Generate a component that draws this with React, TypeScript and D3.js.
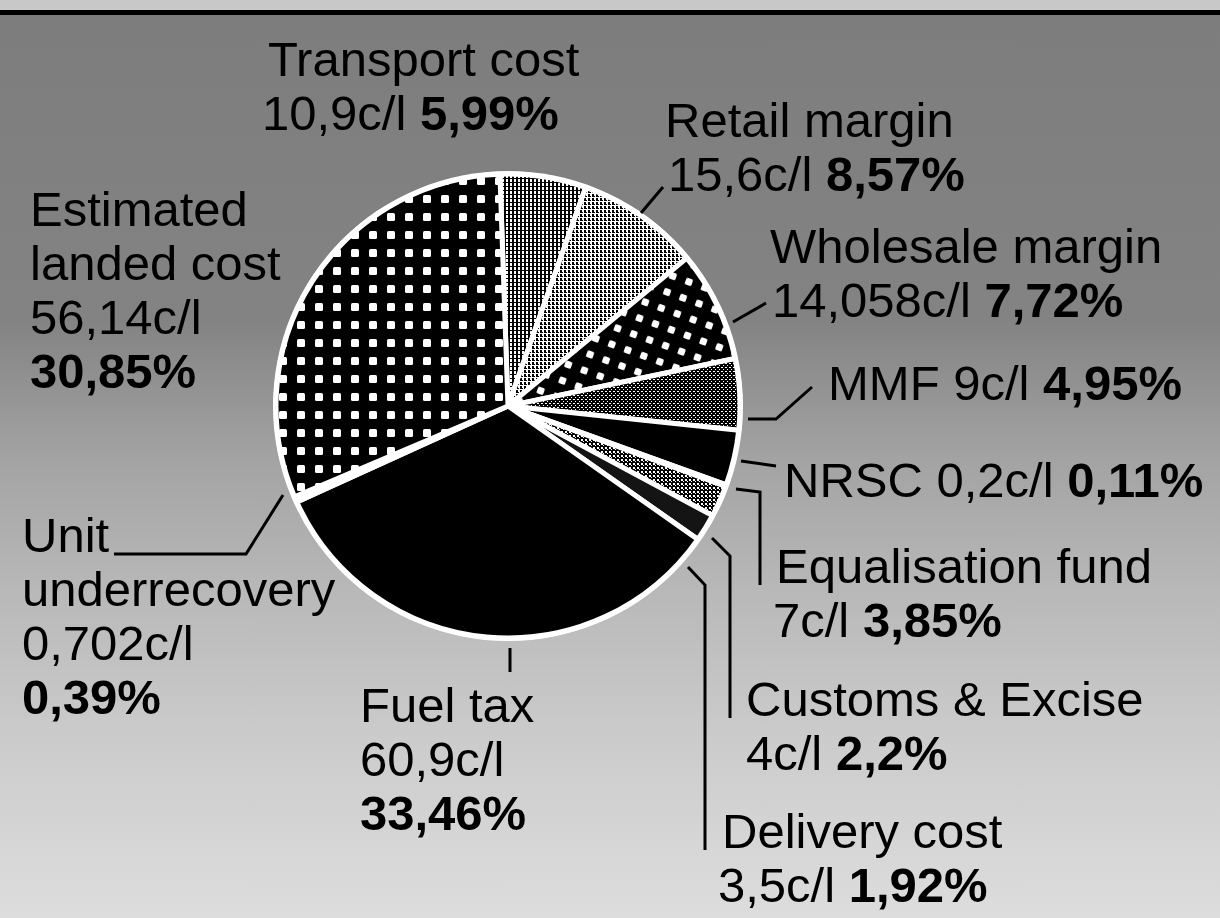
import React from "react";
import * as d3 from "d3";

// ---------- data ----------
const categories = [
  "Transport cost",
  "Retail margin",
  "Wholesale margin",
  "MMF",
  "Equalisation fund",
  "NRSC",
  "Customs & Excise",
  "Delivery cost",
  "Fuel tax",
  "Unit underrecovery",
  "Estimated landed cost",
];
const centsPerLitre = ["10,9", "15,6", "14,058", "9", "7", "0,2", "4", "3,5", "60,9", "0,702", "56,14"];
const shares = [5.99, 8.57, 7.72, 4.95, 3.85, 0.11, 2.2, 1.92, 33.46, 0.39, 30.85];
const shareLabels = ["5,99%", "8,57%", "7,72%", "4,95%", "3,85%", "0,11%", "2,2%", "1,92%", "33,46%", "0,39%", "30,85%"];

// ---------- styling / layout ----------
const W = 1220;
const H = 918;
const CX = 508;
const CY = 406;
const R = 232;
const START = (-2 * Math.PI) / 180;
const FONT = "'Liberation Sans', Arial, Helvetica, sans-serif";
const FS = 49;
const LH = 54;

const sliceFills = [
  "url(#halfMid)",
  "url(#halfLight)",
  "url(#gridB)",
  "url(#halfDark)",
  "#000",
  "#fff",
  "url(#halfMid2)",
  "#141414",
  "#000",
  "#fff",
  "url(#gridA)",
];

// mode: "inline" = name value pct ; "two" = name / value pct ; "stack" = name lines / value / pct
type Layout = { x: number; y: number; mode: "inline" | "two" | "stack"; nameBreak?: number; x2?: number };
const layouts: Layout[] = [
  { x: 268, y: 76, mode: "two", x2: 262 },
  { x: 665, y: 137, mode: "two", x2: 668 },
  { x: 770, y: 263, mode: "two", x2: 772 },
  { x: 828, y: 400, mode: "inline" },
  { x: 776, y: 583, mode: "two", x2: 773 },
  { x: 784, y: 497, mode: "inline" },
  { x: 746, y: 716, mode: "two", x2: 746 },
  { x: 722, y: 848, mode: "two", x2: 718 },
  { x: 360, y: 722, mode: "stack", nameBreak: 2 },
  { x: 22, y: 552, mode: "stack", nameBreak: 1 },
  { x: 30, y: 226, mode: "stack", nameBreak: 1 },
];

const leaders: [number, number][][] = [
  [[641, 213], [663, 187]],
  [[733, 322], [766, 303]],
  [[748, 419], [776, 419], [812, 387]],
  [[741, 461], [776, 466]],
  [[736, 489], [760, 492], [760, 585]],
  [[712, 538], [730, 556], [730, 718]],
  [[688, 567], [705, 585], [705, 850]],
  [[283, 495], [246, 554], [114, 554]],
  [[510, 648], [510, 672]],
];

type Span = { t: string; b?: boolean };

function labelLines(i: number): Span[][] {
  const L = layouts[i];
  const name = categories[i];
  const val = centsPerLitre[i] + "c/l";
  const pct = shareLabels[i];
  if (L.mode === "inline") return [[{ t: name + " " + val + " " }, { t: pct, b: true }]];
  if (L.mode === "two") return [[{ t: name }], [{ t: val + " " }, { t: pct, b: true }]];
  const words = name.split(" ");
  const k = L.nameBreak ?? words.length;
  const out: Span[][] = [[{ t: words.slice(0, k).join(" ") }]];
  if (k < words.length) out.push([{ t: words.slice(k).join(" ") }]);
  out.push([{ t: val }]);
  out.push([{ t: pct, b: true }]);
  return out;
}

export default function App() {
  const pie = d3
    .pie<number>()
    .sort(null)
    .value((d) => d)
    .startAngle(START)
    .endAngle(START + 2 * Math.PI);
  const arcs = pie(shares);
  const arc = d3.arc<d3.PieArcDatum<number>>().innerRadius(0).outerRadius(R);
  const line = d3.line();

  return (
    <svg width={W} height={H} viewBox={`0 0 ${W} ${H}`} style={{ position: "absolute", left: 0, top: 0 }}>
      <defs>
        <linearGradient id="bg" x1="0" y1="0" x2="0" y2="1">
          <stop offset="0" stopColor="#7d7d7d" />
          <stop offset="0.35" stopColor="#838383" />
          <stop offset="0.5" stopColor="#a3a3a3" />
          <stop offset="0.65" stopColor="#b9b9b9" />
          <stop offset="0.8" stopColor="#cbcbcb" />
          <stop offset="1" stopColor="#dddddd" />
        </linearGradient>
        <pattern id="gridA" width="18" height="18" patternUnits="userSpaceOnUse">
          <rect width="18" height="18" fill="#000" />
          <rect x="5" y="5" width="8" height="8" rx="1.5" fill="#fff" />
        </pattern>
        <pattern id="gridB" width="17" height="17" patternUnits="userSpaceOnUse" patternTransform="rotate(20)">
          <rect width="17" height="17" fill="#000" />
          <rect x="5" y="5" width="7" height="7" rx="1.5" fill="#fff" />
        </pattern>
        <pattern id="halfMid" width="4" height="4" patternUnits="userSpaceOnUse">
          <rect width="4" height="4" fill="#fff" />
          <rect width="2" height="4" fill="#000" />
          <rect x="2" width="2" height="1" fill="#000" />
        </pattern>
        <pattern id="halfLight" width="4" height="4" patternUnits="userSpaceOnUse">
          <rect width="4" height="4" fill="#fff" />
          <rect width="2" height="3" fill="#000" />
          <rect x="2" y="2" width="1" height="1" fill="#000" />
        </pattern>
        <pattern id="halfDark" width="4" height="4" patternUnits="userSpaceOnUse">
          <rect width="4" height="4" fill="#000" />
          <rect x="1" y="1" width="2" height="1" fill="#fff" />
          <rect x="3" y="3" width="1" height="1" fill="#fff" />
        </pattern>
        <pattern id="halfMid2" width="4" height="4" patternUnits="userSpaceOnUse">
          <rect width="4" height="4" fill="#000" />
          <rect x="1" y="1" width="2" height="2" fill="#fff" />
          <rect x="3" y="3" width="1" height="1" fill="#fff" />
        </pattern>
      </defs>

      <rect x={0} y={0} width={W} height={H} fill="url(#bg)" />
      <rect x={0} y={0} width={W} height={10} fill="#c8c8c8" />
      <rect x={0} y={10} width={W} height={5} fill="#000" />

      <circle cx={CX} cy={CY} r={R + 3} fill="#fff" />
      <g transform={`translate(${CX},${CY})`}>
        {arcs.map((a, i) => (
          <path key={i} d={arc(a) || ""} fill={sliceFills[i]} stroke="#fff" strokeWidth={5} strokeLinejoin="round" />
        ))}
      </g>

      <g fill="none" stroke="#000" strokeWidth={3}>
        {leaders.map((pts, i) => (
          <path key={i} d={line(pts) || ""} />
        ))}
      </g>

      <g fontFamily={FONT} fontSize={FS} fill="#000">
        {categories.map((_, i) => {
          const L = layouts[i];
          const lines = labelLines(i);
          return (
            <text key={i}>
              {lines.map((spans, j) => (
                <tspan key={j} x={j > 0 && L.x2 !== undefined ? L.x2 : L.x} y={L.y + j * LH}>
                  {spans.map((s, k) => (
                    <tspan key={k} fontWeight={s.b ? "bold" : "normal"}>
                      {s.t}
                    </tspan>
                  ))}
                </tspan>
              ))}
            </text>
          );
        })}
      </g>
    </svg>
  );
}
